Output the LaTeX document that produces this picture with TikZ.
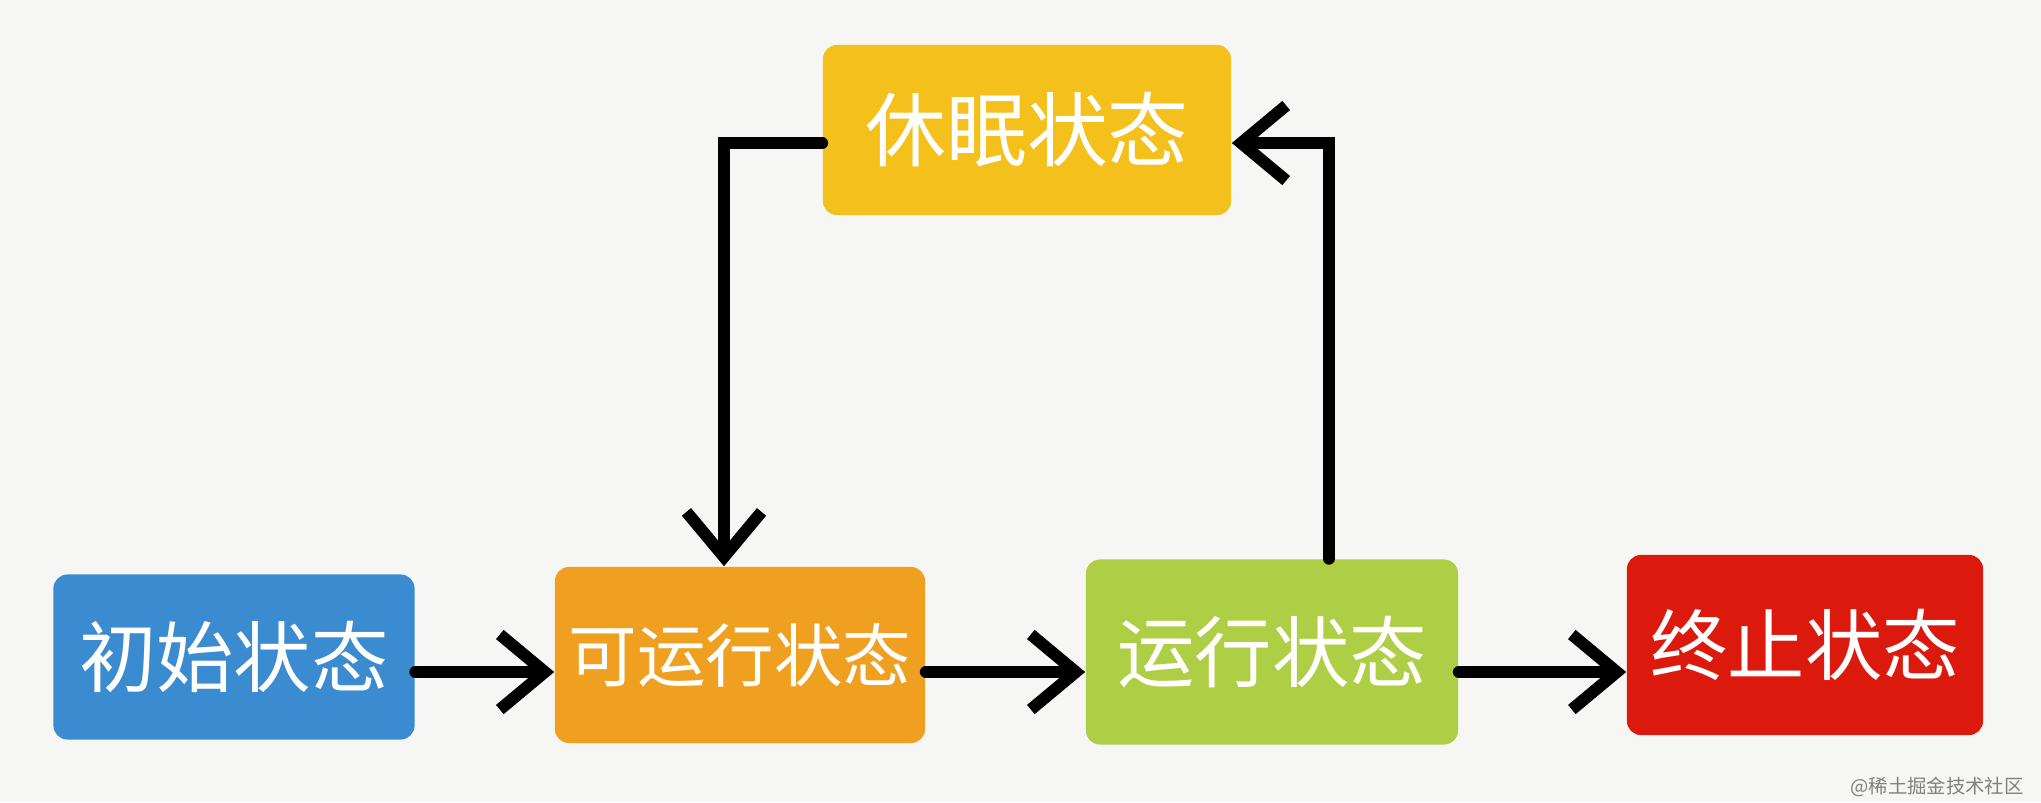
\documentclass[tikz,border=0pt]{standalone}
\usepackage{fontspec}
\setmainfont{Noto Sans CJK SC}
\usetikzlibrary{positioning}
\usetikzlibrary{arrows.meta}

\definecolor{bgpaper}{HTML}{F6F6F5}
\definecolor{initblue}{HTML}{3B8BD0}
\definecolor{runnableorange}{HTML}{EFA020}
\definecolor{runninggreen}{HTML}{AECF45}
\definecolor{termred}{HTML}{DB1A0D}
\definecolor{sleepyellow}{HTML}{F4C01C}

\tikzset{
	statebox/.style = {rounded corners = 4pt, text = white, inner sep = 0pt,
		font = \fontsize{22}{26}\selectfont},
	flow/.style = {black, line width = 3.4pt, line cap = round,
		-{Straight Barb[length = 4.5mm, width = 7.5mm]}}
}

\begin{document}
\begin{tikzpicture}[x = 0.01cm, y = -0.01cm]
					\fill[bgpaper] (0, 0) rectangle (2041, 802);
					\useasboundingbox (0, 0) rectangle (2041, 802);
					\node[statebox, fill = initblue, minimum width = 3.61cm, minimum height = 1.65cm] (init) at (234, 657) {初始状态};
					\node[statebox, fill = runnableorange, minimum width = 3.70cm, minimum height = 1.76cm, font = \fontsize{19.5}{24}\selectfont] (runnable) at (740, 655) {可运行状态};
					\node[statebox, fill = runninggreen, minimum width = 3.72cm, minimum height = 1.85cm] (running) at (1272, 652) {运行状态};
					\node[statebox, fill = termred, minimum width = 3.56cm, minimum height = 1.80cm] (term) at (1805, 645) {终止状态};
					\node[statebox, fill = sleepyellow, minimum width = 4.08cm, minimum height = 1.70cm, font = \fontsize{23}{27}\selectfont] (sleep) at (1027, 130) {休眠状态};
					\draw[flow] ([yshift = -0.15cm]init.east) -- ([yshift = -0.15cm]init.east -| runnable.west);
					\draw[flow] ([yshift = -0.17cm]runnable.east) -- ([yshift = -0.17cm]runnable.east -| running.west);
					\draw[flow] ([yshift = -0.2cm]running.east) -- ([yshift = -0.2cm]running.east -| term.west);
					\draw[flow] ([yshift = -0.13cm]sleep.west) -| ([xshift = -0.16cm]runnable.north);
					\draw[flow] ([xshift = 0.57cm]running.north) |- ([yshift = -0.13cm]sleep.east);
					\node[gray, font = \fontsize{5.5}{6}\selectfont, anchor = east] (mark) at (2036, 787) {@稀土掘金技术社区};
				\end{tikzpicture}
\end{document}
